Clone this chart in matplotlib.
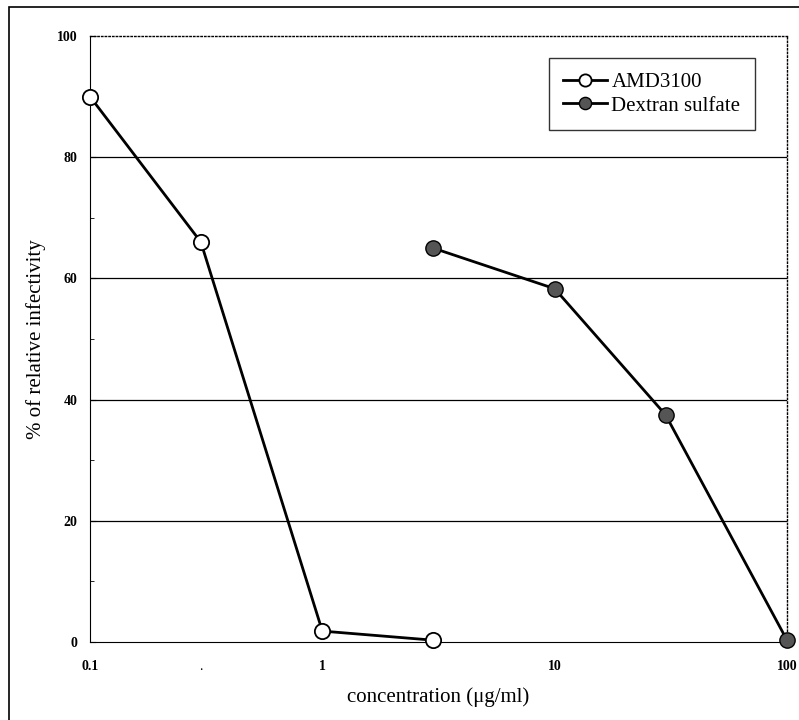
import matplotlib.pyplot as plt
from matplotlib.patches import Rectangle
from matplotlib.ticker import FixedLocator, FixedFormatter

plt.rcParams['font.family'] = ['Liberation Serif', 'DejaVu Serif']

amd_conc = [0.1, 0.3, 1, 3]
amd_inf = [90, 66, 1.8, 0.3]
dex_conc = [3, 10, 30, 100]
dex_inf = [65, 58.3, 37.5, 0.3]

x_ticks = [0.1, 1, 10, 100]
x_labels = ['0.1', '1', '10', '100']
y_ticks = [0, 20, 40, 60, 80, 100]

fig = plt.figure(figsize=(7.99, 7.2), dpi=100)
ax = fig.add_axes([90 / 799, 1 - 642 / 720, 697 / 799, 606 / 720])

# outer frame of the figure
fig.patches.append(Rectangle((9 / 799, -0.05), 1.2, 1 - 7 / 720 + 0.05,
                             transform=fig.transFigure, fill=False,
                             edgecolor='black', linewidth=1.2))

ax.set_xscale('log')
ax.set_xlim(0.1, 100)
ax.set_ylim(0, 100)

for y in [20, 40, 60, 80]:
    ax.axhline(y, color='black', linewidth=0.9, zorder=1)

ax.plot(amd_conc, amd_inf, color='black', linewidth=2, marker='o',
        markersize=11, markerfacecolor='white', markeredgecolor='black',
        markeredgewidth=1.3, label='AMD3100', zorder=3, clip_on=False)
ax.plot(dex_conc, dex_inf, color='black', linewidth=2, marker='o',
        markersize=11, markerfacecolor='#555555', markeredgecolor='black',
        markeredgewidth=1.0, label='Dextran sulfate', zorder=3, clip_on=False)

ax.set_xticks(x_ticks)
ax.set_xticklabels(x_labels)
ax.xaxis.set_minor_locator(FixedLocator([0.3]))
ax.xaxis.set_minor_formatter(FixedFormatter(['.']))
ax.set_yticks(y_ticks)
ax.yaxis.set_minor_locator(FixedLocator([10, 30, 50, 70, 90]))
ax.tick_params(axis='y', which='major', labelsize=10, length=4,
               direction='in', pad=9)
ax.tick_params(axis='y', which='minor', length=3, direction='in')
ax.tick_params(axis='x', which='both', labelsize=10, length=0, pad=13)
for lbl in ax.get_xticklabels() + ax.get_yticklabels():
    lbl.set_fontweight('bold')

ax.spines['top'].set_linestyle(':')
ax.spines['right'].set_linestyle(':')
ax.spines['top'].set_linewidth(1.0)
ax.spines['right'].set_linewidth(1.0)

ax.set_xlabel('concentration (\u03bcg/ml)', fontsize=15, labelpad=10)
ax.set_ylabel('% of relative infectivity', fontsize=15, labelpad=8)

leg = ax.legend(loc='upper right', bbox_to_anchor=(0.954, 0.964),
                borderaxespad=0, fontsize=15, frameon=True, fancybox=False,
                edgecolor='black', handlelength=2.1, handletextpad=0.2,
                borderpad=0.7, labelspacing=0.2, markerscale=0.8)
leg.get_frame().set_linewidth(1.0)

fig.savefig('out.png', dpi=100)
